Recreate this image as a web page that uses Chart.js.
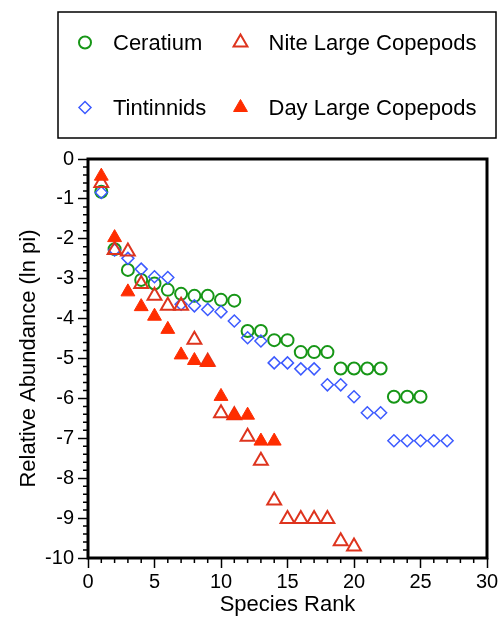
<!DOCTYPE html>
<html>
<head>
<meta charset="utf-8">
<script src="https://cdn.jsdelivr.net/npm/chart.js@4.4.0/dist/chart.umd.min.js"></script>
<style>
  html, body { margin: 0; padding: 0; background: #fff; }
  #wrap { width: 501px; height: 618px; }
</style>
</head>
<body>
<div id="wrap"><canvas id="rankChart" width="501" height="618"></canvas></div>
<script>
const FONT = "'Liberation Sans', Arial, Helvetica, sans-serif";

// values by species rank (rank = index + 1)
const ceratium = [-0.82, -2.26, -2.78, -3.03, -3.12, -3.28, -3.38, -3.43, -3.43, -3.53, -3.55,
  -4.31, -4.31, -4.54, -4.54, -4.84, -4.84, -4.84, -5.25, -5.25, -5.25, -5.25, -5.96, -5.96, -5.96];
const tintinnids = [-0.84, -2.28, -2.49, -2.76, -2.95, -2.97, -3.64, -3.68, -3.77, -3.83, -4.06,
  -4.48, -4.56, -5.11, -5.11, -5.26, -5.26, -5.66, -5.66, -5.96, -6.36, -6.36,
  -7.06, -7.06, -7.06, -7.06, -7.06];
const niteLarge = [-0.6, -2.28, -2.32, -3.13, -3.43, -3.68, -3.68, -4.53, -5.08, -6.37, -6.42,
  -6.96, -7.56, -8.56, -9.02, -9.02, -9.02, -9.02, -9.58, -9.71];
const dayLarge = [-0.43, -1.97, -3.33, -3.7, -3.94, -4.27, -4.91, -5.05, -5.1, -5.95, -6.42,
  -6.42, -7.07, -7.07];

const seriesNames = ['Ceratium', 'Tintinnids', 'Nite Large Copepods', 'Day Large Copepods'];
const xTicks = [0, 5, 10, 15, 20, 25, 30];
const yTicks = [0, -1, -2, -3, -4, -5, -6, -7, -8, -9, -10];

function toPoints(values) {
  return values.map((v, i) => ({ x: i + 1, y: v }));
}

// boxed two-column legend drawn above the plot
const boxLegend = {
  id: 'boxLegend',
  afterDraw(chart) {
    const ctx = chart.ctx;
    ctx.save();
    ctx.lineWidth = 1.5;
    ctx.strokeStyle = '#000';
    ctx.strokeRect(58, 12, 438, 126);

    const cols = [85, 240.5];
    const rows = [42.5, 107.5];
    chart.data.datasets.forEach((ds, k) => {
      const x = cols[Math.floor(k / 2)];
      const y = rows[k % 2];
      ctx.strokeStyle = ds.borderColor;
      ctx.fillStyle = ds.backgroundColor;
      ctx.lineWidth = ds.borderWidth;
      Chart.helpers.drawPoint(ctx, {
        pointStyle: ds.pointStyle,
        radius: ds.pointRadius,
        borderWidth: ds.borderWidth,
        rotation: 0
      }, x, y);
      ctx.fillStyle = '#000';
      ctx.font = '22px ' + FONT;
      ctx.textBaseline = 'alphabetic';
      ctx.textAlign = 'left';
      ctx.fillText(ds.label, x + 28, y + 7);
    });
    ctx.restore();
  }
};

// thick frame round the plot and the small minor ticks
const frameAndMinor = {
  id: 'frameAndMinor',
  afterDatasetsDraw(chart) {
    const { ctx, chartArea: a, scales } = chart;
    ctx.save();
    ctx.strokeStyle = '#000';
    ctx.lineWidth = 1.5;
    ctx.beginPath();
    for (let v = -10; v <= 0.001; v += 0.2) {
      const r = Math.round(v * 5) / 5;
      if (Math.abs(r - Math.round(r)) < 0.01) continue;
      const py = scales.y.getPixelForValue(r);
      ctx.moveTo(a.left - 5, py);
      ctx.lineTo(a.left, py);
    }
    for (let v = 0; v <= 30; v++) {
      if (v % 5 === 0) continue;
      const px = scales.x.getPixelForValue(v);
      ctx.moveTo(px, a.bottom);
      ctx.lineTo(px, a.bottom + 5);
    }
    ctx.stroke();
    ctx.lineWidth = 3;
    ctx.strokeRect(a.left, a.top, a.right - a.left, a.bottom - a.top);
    ctx.restore();
  }
};

const chart = new Chart(document.getElementById('rankChart'), {
  type: 'scatter',
  data: {
    datasets: [
      {
        label: seriesNames[0],
        data: toPoints(ceratium),
        pointStyle: 'circle',
        pointRadius: 6,
        borderWidth: 2,
        borderColor: 'rgb(22,150,22)',
        backgroundColor: 'rgba(0,0,0,0)',
        order: 4
      },
      {
        label: seriesNames[1],
        data: toPoints(tintinnids),
        pointStyle: 'rectRot',
        pointRadius: 6,
        borderWidth: 1.5,
        borderColor: 'rgb(60,90,255)',
        backgroundColor: 'rgba(0,0,0,0)',
        order: 3
      },
      {
        label: seriesNames[2],
        data: toPoints(niteLarge),
        pointStyle: 'triangle',
        pointRadius: 8,
        borderWidth: 2,
        borderColor: 'rgb(222,52,30)',
        backgroundColor: 'rgba(0,0,0,0)',
        order: 2
      },
      {
        label: seriesNames[3],
        data: toPoints(dayLarge),
        pointStyle: 'triangle',
        pointRadius: 8,
        borderWidth: 1,
        borderColor: 'rgb(255,45,0)',
        backgroundColor: 'rgb(255,45,0)',
        order: 1
      }
    ]
  },
  options: {
    responsive: false,
    animation: false,
    events: [],
    layout: { padding: { top: 159, right: 14, bottom: 0, left: 0 } },
    plugins: {
      legend: { display: false },
      tooltip: { enabled: false }
    },
    scales: {
      x: {
        type: 'linear',
        min: 0,
        max: 30,
        afterFit(scale) { scale.height = 60; },
        afterBuildTicks(scale) { scale.ticks = xTicks.map(v => ({ value: v })); },
        ticks: { color: '#000', font: { family: FONT, size: 20 }, padding: 2, maxRotation: 0 },
        grid: { drawOnChartArea: false, tickLength: 10, tickColor: '#000', tickWidth: 1.5 },
        border: { display: false },
        title: {
          display: true,
          text: 'Species Rank',
          color: '#000',
          font: { family: FONT, size: 22 },
          padding: { top: 0, bottom: 0 }
        }
      },
      y: {
        type: 'linear',
        min: -10,
        max: 0,
        afterFit(scale) { scale.width = 88; },
        afterBuildTicks(scale) { scale.ticks = yTicks.map(v => ({ value: v })); },
        ticks: { color: '#000', font: { family: FONT, size: 20 }, padding: 4 },
        grid: { drawOnChartArea: false, tickLength: 10, tickColor: '#000', tickWidth: 1.5 },
        border: { display: false },
        title: {
          display: true,
          text: 'Relative Abundance (ln pi)',
          color: '#000',
          font: { family: FONT, size: 22 },
          padding: { top: 16, bottom: 0 }
        }
      }
    }
  },
  plugins: [frameAndMinor, boxLegend]
});
</script>
</body>
</html>
